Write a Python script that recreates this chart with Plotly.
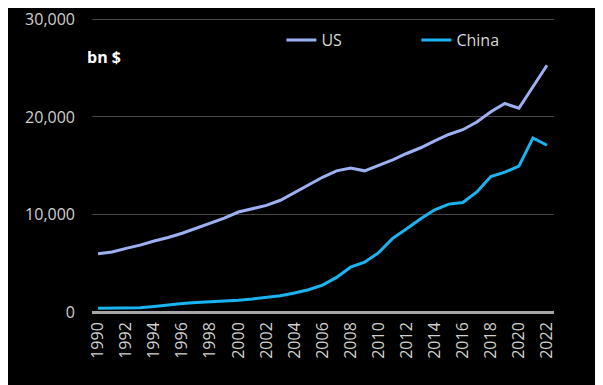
import plotly.graph_objects as go

years = list(range(1990, 2023))
us = [5963, 6158, 6520, 6858, 7287, 7640, 8073, 8578, 9063, 9631,
      10251, 10582, 10929, 11457, 12217, 13039, 13816, 14474, 14770, 14478,
      15049, 15600, 16254, 16843, 17551, 18206, 18695, 19477, 20533, 21381,
      20894, 23100, 25300]
china = [380, 390, 420, 445, 564, 734, 864, 962, 1029, 1094,
         1211, 1339, 1471, 1660, 1955, 2286, 2752, 3550, 4594, 5102,
         6087, 7552, 8532, 9570, 10476, 11062, 11233, 12310, 13895, 14340,
         14960, 17850, 17100]
y_ticks = [0, 10000, 20000, 30000]
y_tick_labels = ["0", "10,000", "20,000", "30,000"]
x_ticks = list(range(1990, 2023, 2))

FONT = "Open Sans"
TICK_COLOR = "#cfcfcf"

fig = go.Figure()
fig.add_trace(go.Scatter(x=years, y=us, mode="lines", name="US",
                         line=dict(color="#9db0f2", width=3)))
fig.add_trace(go.Scatter(x=years, y=china, mode="lines", name="China",
                         line=dict(color="#1ab4f2", width=3)))

fig.update_layout(
    width=595, height=377,
    paper_bgcolor="black", plot_bgcolor="black",
    margin=dict(l=84, r=49, t=10, b=73, autoexpand=False),
    font=dict(family=FONT, size=16, color=TICK_COLOR),
    showlegend=True,
    legend=dict(orientation="h", x=0.41, y=0.925, xanchor="left", yanchor="middle",
                bgcolor="rgba(0,0,0,0)", font=dict(size=16, color="#d8d8d8"),
                entrywidth=90, entrywidthmode="pixels"),
    xaxis=dict(range=[1989.57, 2022.5], tickmode="array", tickvals=x_ticks,
               ticktext=[str(v) for v in x_ticks], tickangle=-90,
               showgrid=False, zeroline=False, showline=False, ticks="",
               ticklabelstandoff=6, tickfont=dict(size=16, color=TICK_COLOR)),
    yaxis=dict(range=[0, 30150], tickmode="array", tickvals=y_ticks,
               ticktext=y_tick_labels, showgrid=True, gridcolor="#444444", gridwidth=1,
               zeroline=True, zerolinecolor="#a6a6a6", zerolinewidth=2.5,
               showline=False, ticks="", ticklabelstandoff=16,
               tickfont=dict(size=16, color=TICK_COLOR)),
    annotations=[dict(text="<b>bn $</b>", xref="paper", yref="paper",
                      x=-0.016, y=0.868, xanchor="left", yanchor="middle",
                      showarrow=False, font=dict(family=FONT, size=16, color="white"))],
)

fig.write_html("out.html")
